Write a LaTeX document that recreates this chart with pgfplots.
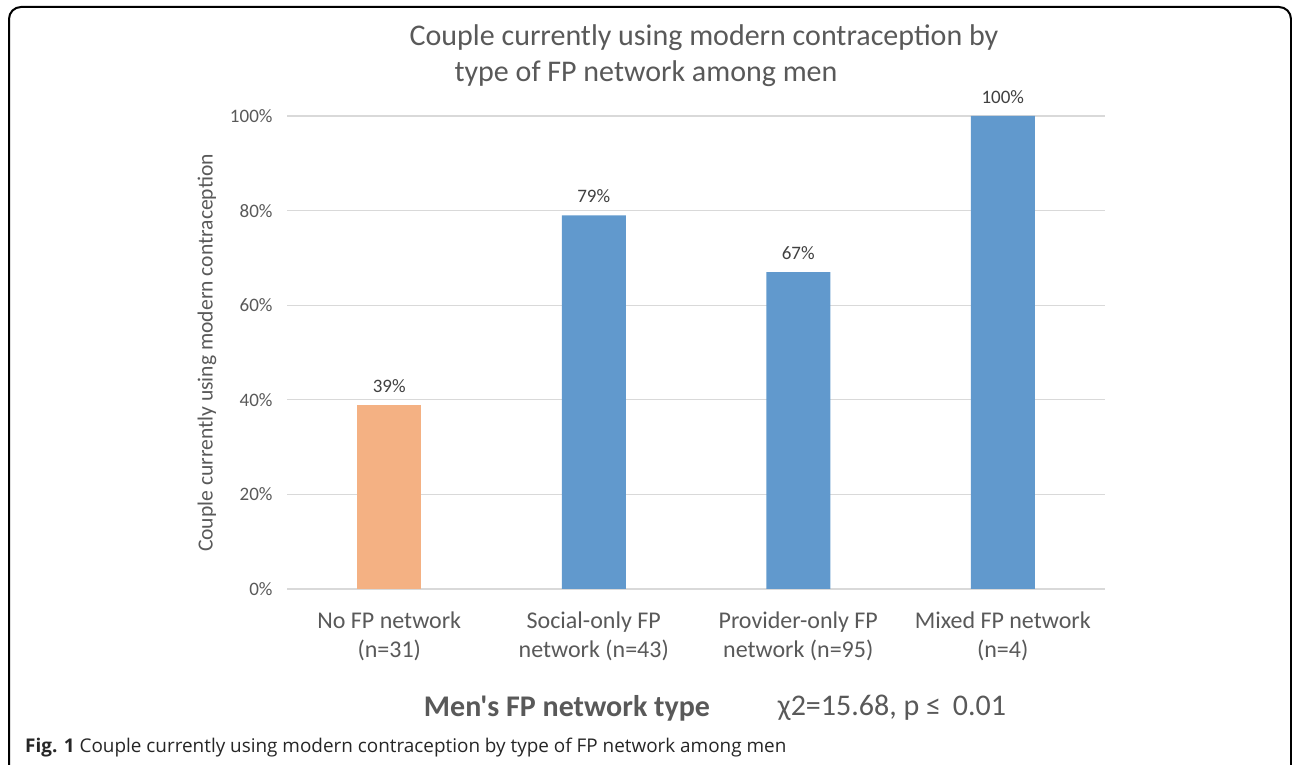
\documentclass[border=0pt]{standalone}
\usepackage{pgfplots}
\pgfplotsset{compat=1.18}
\usepackage{fontspec}
\setmainfont{Carlito}[Ligatures=TeXOff]
\newfontfamily\capfont{Open Sans}
\definecolor{tickgray}{HTML}{595959}
\definecolor{labgray}{HTML}{404040}
\definecolor{gridgray}{HTML}{D9D9D9}
\definecolor{barblue}{HTML}{6199CD}
\definecolor{barorange}{HTML}{F4B183}
\begin{document}
\begin{tikzpicture}[x=1pt,y=1pt]
\path[use as bounding box] (0,0) rectangle (1292,765);
\draw[line width=2pt, rounded corners=12pt] (9,-5) -- (9,758) -- (1291,758) -- (1291,-5);
\begin{axis}[
  at={(287pt,176pt)}, anchor=south west,
  scale only axis, width=818pt, height=473pt,
  xmin=-0.5, xmax=3.5, ymin=0, ymax=100,
  axis line style={draw=none},
  ytick={0,20,40,60,80,100},
  yticklabel={\pgfmathprintnumber{\tick}\%},
  /pgf/number format/assume math mode=true,
  ymajorgrids, grid style={gridgray, line width=1.2pt},
  major tick length=0pt,
  yticklabel style={font=\fontsize{19}{22}\selectfont, text=tickgray, xshift=-11pt},
  xtick={0,1,2,3},
  xticklabels={{No FP network\\(n=31)},{Social-only FP\\network (n=43)},{Provider-only FP\\network (n=95)},{Mixed FP network\\(n=4)}},
  xticklabel style={font=\fontsize{24}{29}\selectfont, text=tickgray, align=center, yshift=-19pt},
  bar width=64pt,
  nodes near coords={\pgfmathprintnumber{\pgfplotspointmeta}\%},
  nodes near coords style={font=\fontsize{19}{22}\selectfont, text=labgray, inner sep=0pt, anchor=south, yshift=12pt},
  clip=false,
]
\addplot[ybar, fill=barorange, draw=none] coordinates {(0,39)};
\addplot[ybar, fill=barblue, draw=none] coordinates {(1,79) (2,67) (3,100)};
\end{axis}
\node[font=\fontsize{30}{34}\selectfont, text=tickgray] at (704,727) {Couple currently using modern contraception by};
\node[font=\fontsize{30}{34}\selectfont, text=tickgray] at (646,691) {type of FP network among men};
\node[font=\fontsize{21.6}{25}\selectfont, text=tickgray, rotate=90] at (207,412) {Couple currently using modern contraception};
\node[font=\bfseries\fontsize{30}{34}\selectfont, text=tickgray] at (567,57) {Men's FP network type};
\node[font=\fontsize{30}{34}\selectfont, text=tickgray] at (892,57) {χ2=15.68, p ≤\, 0.01};
\node[font=\capfont\fontsize{18.9}{22}\selectfont, anchor=west, inner sep=0pt, text=black!85] at (25,17) {\textbf{Fig. 1} Couple currently using modern contraception by type of FP network among men};
\end{tikzpicture}
\end{document}
